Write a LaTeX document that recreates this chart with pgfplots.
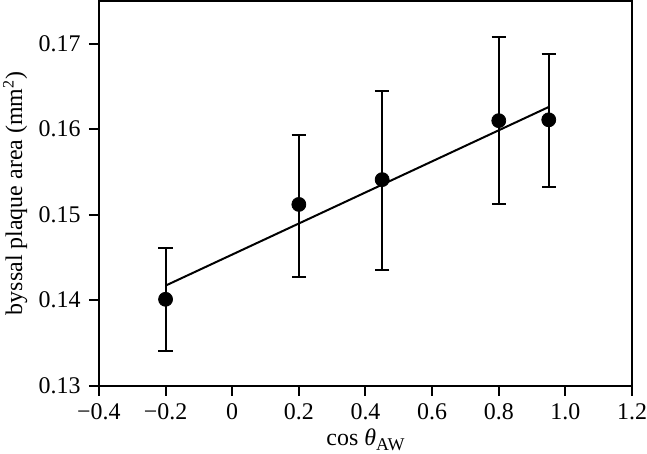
\documentclass[border=0pt]{standalone}
\usepackage{fontspec}
\setmainfont{Liberation Serif}
\usepackage{pgfplots}
\pgfplotsset{compat=1.18}
\begin{document}
\fontsize{12pt}{14pt}\selectfont
\begin{tikzpicture}
\begin{axis}[
  scale only axis,
  width=267.5pt, height=193pt,
  xmin=-0.4, xmax=1.2,
  ymin=0.13, ymax=0.175,
  xtick={-0.4,-0.2,0,0.2,0.4,0.6,0.8,1.0,1.2},
  xticklabels={−0.4,−0.2,0,0.2,0.4,0.6,0.8,1.0,1.2},
  ytick={0.13,0.14,0.15,0.16,0.17},
  yticklabels={0.13,0.14,0.15,0.16,0.17},
  tick align=outside,
  xtick pos=bottom, ytick pos=left,
  major tick length=5pt,
  every tick/.style={black, line width=1pt},
  axis line style={line width=1pt},
  ticklabel style={font=\fontsize{12pt}{14pt}\selectfont},
  xticklabel style={inner xsep=0pt},
  label style={font=\fontsize{12pt}{14pt}\selectfont},
  xlabel={cos \textit{θ}\raisebox{-0.45ex}{\fontsize{9pt}{10pt}\selectfont AW}},
  ylabel={byssal plaque area (mm\textsuperscript{2})},
  xlabel style={inner sep=1.5pt, yshift=1.5pt},
  ylabel style={inner sep=1.5pt},
  clip=false,
]
\addplot[black, line width=1pt] coordinates {(-0.2,0.1417) (0.95,0.1626)};
\addplot[black, only marks, mark=*, mark size=3.5pt,
  error bars/.cd, y dir=both, y explicit,
  error bar style={line width=1pt},
  error mark options={rotate=90, mark size=3.6pt, line width=1pt}]
  coordinates {
  (-0.2,0.1401) +- (0,0.0060)
  (0.2,0.1512) += (0,0.0081) -= (0,0.0085)
  (0.45,0.1541) += (0,0.0104) -= (0,0.0106)
  (0.8,0.1610) += (0,0.0098) -= (0,0.0098)
  (0.95,0.1611) += (0,0.0077) -= (0,0.0079)
};
\end{axis}
\end{tikzpicture}
\end{document}
